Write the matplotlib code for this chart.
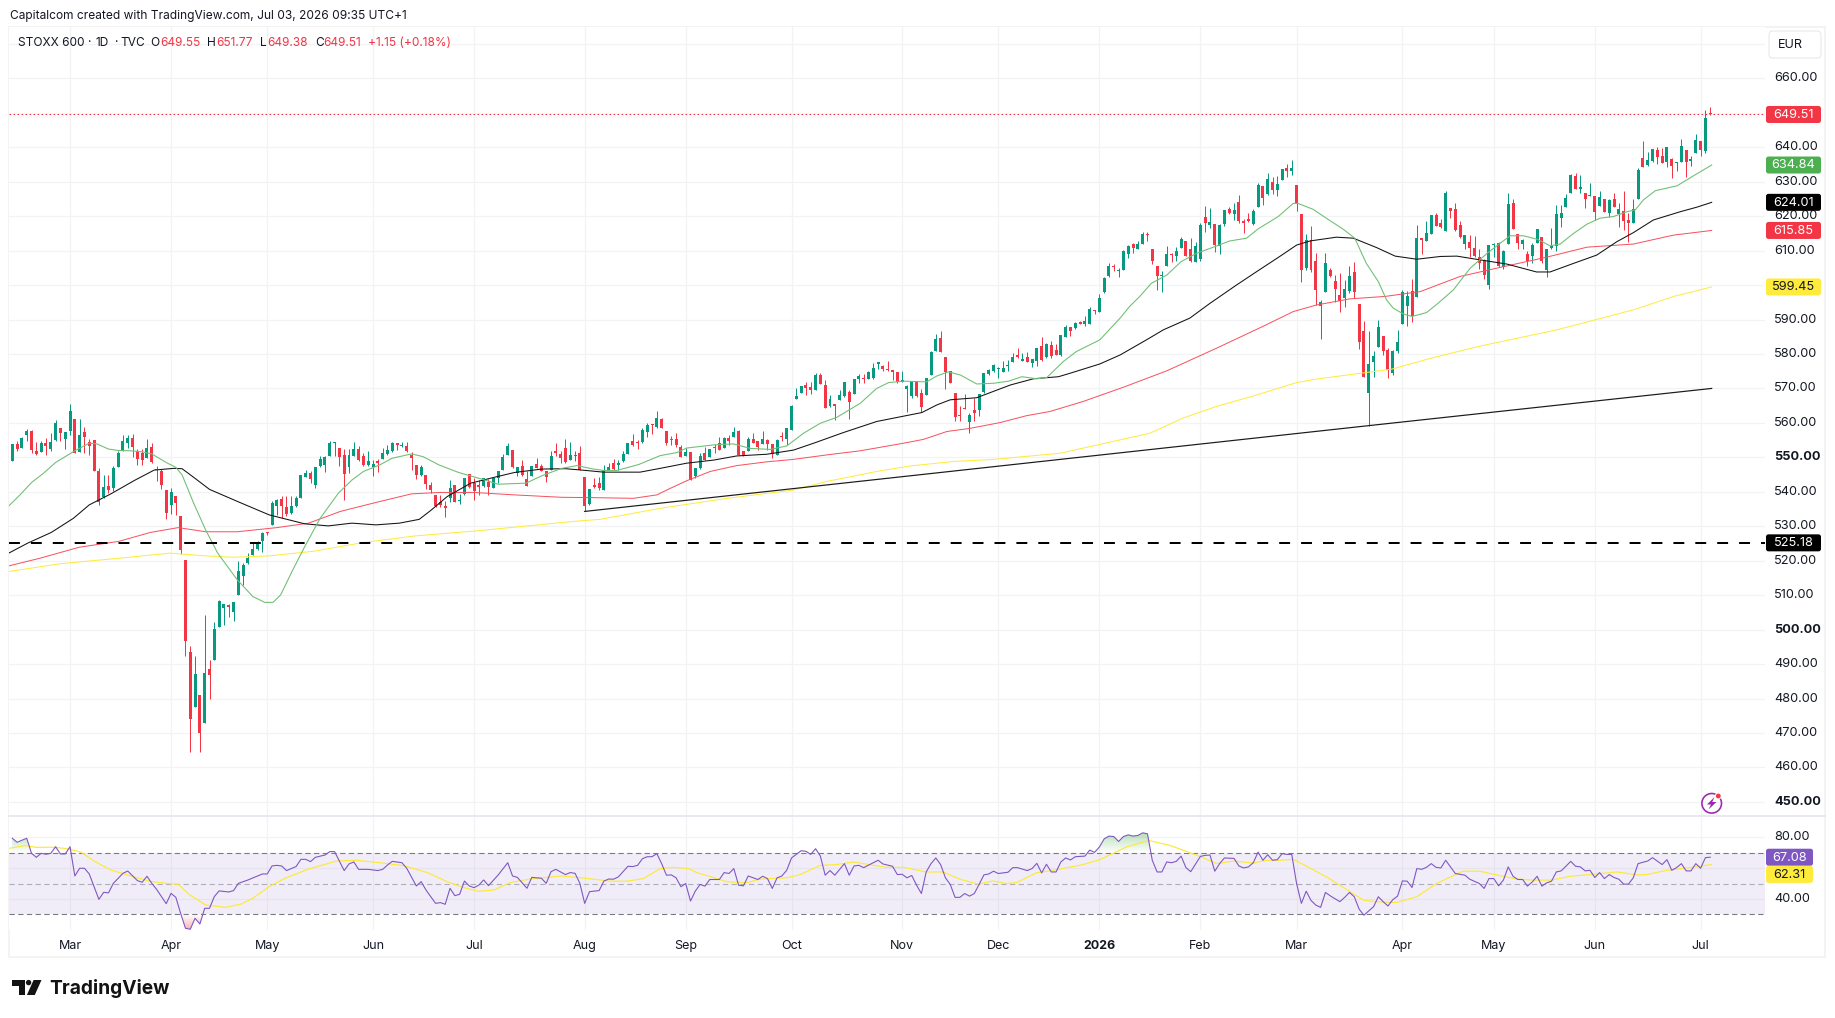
# STOXX 600 daily candles with moving averages, trend line and RSI pane
import numpy as np
import matplotlib
matplotlib.use('Agg')
import matplotlib.pyplot as plt
from matplotlib.patches import Rectangle, Circle, Polygon, FancyBboxPatch
from matplotlib.path import Path

plt.rcParams['font.family'] = ['Inter', 'DejaVu Sans']
plt.rcParams['lines.scale_dashes'] = False

W, H = 1835, 1018
BAR_X0, BAR_DX = 12.3, 4.81   # pixel of first bar, pixels per bar

# ---- price data, one entry per trading day
opens = [
    549.0,553.9,552.8,556.5,557.6,551.9,551.6,554.1,552.3,555.0,
    558.5,555.2,557.7,561.0,551.6,557.4,554.4,555.0,546.1,538.4,
    541.7,541.2,547.3,551.7,554.1,555.6,551.7,551.4,549.8,553.0,
    546.5,546.1,540.5,536.2,538.8,533.0,520.2,493.5,477.4,481.1,
    472.8,488.5,491.2,500.9,506.3,507.1,505.0,509.9,515.7,519.3,
    521.7,523.3,525.6,528.0,530.4,535.9,537.9,535.7,533.9,535.9,
    538.2,544.3,545.4,542.0,547.5,547.8,550.4,554.2,552.6,550.7,
    547.1,550.4,552.3,550.5,547.7,547.3,548.6,549.6,551.0,551.7,
    553.9,553.2,553.3,550.7,547.7,544.9,544.8,542.0,539.0,536.9,
    535.8,538.1,542.0,537.4,539.4,545.1,542.5,541.7,541.7,542.8,
    541.2,543.9,546.3,550.7,552.1,545.4,547.5,543.6,544.6,548.1,
    547.6,546.0,546.3,551.9,550.9,552.8,549.2,550.3,551.2,544.3,
    536.4,542.0,542.6,540.6,546.3,548.3,547.9,548.8,551.0,554.8,
    554.4,554.4,557.4,559.5,558.8,561.2,557.7,555.0,555.4,553.1,
    550.4,551.6,544.6,546.9,551.2,550.2,552.7,554.2,552.8,555.6,
    556.0,557.5,551.9,551.7,555.2,554.8,553.9,555.1,553.8,550.8,
    555.9,555.3,557.8,566.8,568.8,571.0,570.5,569.4,573.9,571.0,
    564.9,565.1,566.5,567.7,569.0,568.5,572.6,572.8,572.8,572.9,
    577.2,576.5,575.5,575.0,574.8,571.9,569.7,567.8,572.1,568.6,
    568.1,573.9,580.9,584.6,579.1,575.0,568.6,562.1,564.4,560.3,
    563.6,563.6,568.9,574.2,575.0,575.7,574.9,576.5,577.6,579.7,
    578.0,579.0,577.3,578.1,582.3,579.0,582.6,581.2,579.7,584.9,
    587.8,587.4,589.4,588.7,588.8,592.6,592.2,598.0,602.6,605.5,
    604.0,604.5,609.1,611.9,610.6,612.0,614.7,610.5,605.5,602.6,
    605.6,609.0,608.5,610.8,612.8,610.5,606.8,607.6,619.7,617.5,
    617.7,611.4,617.7,622.0,620.6,624.1,618.7,619.2,617.6,622.8,
    628.8,626.4,630.0,627.6,630.5,634.0,633.0,629.0,620.6,605.0,
    613.1,607.0,594.0,598.0,604.4,601.2,597.1,596.3,598.2,603.8,
    594.5,586.7,568.8,577.7,581.9,585.2,581.2,574.6,581.0,588.7,
    593.8,598.3,596.4,613.3,612.8,614.9,620.3,617.9,615.8,622.4,
    622.1,617.4,611.9,612.4,610.7,608.2,607.3,600.0,611.5,612.3,
    605.3,611.9,623.8,614.7,611.9,609.0,608.4,612.3,613.9,604.3,
    610.9,611.2,619.5,622.8,626.8,631.7,628.0,626.6,625.9,625.9,
    622.9,625.0,620.9,625.0,620.5,621.5,618.9,618.1,625.0,636.8,
    634.9,635.9,639.2,637.5,635.6,636.5,635.4,635.8,639.1,636.1,
    638.4,641.7,639.0,649.55,
]
highs = [
    553.9,554.6,555.9,558.2,558.0,554.5,554.6,555.7,557.2,560.8,
    558.5,557.4,565.5,561.0,561.0,558.7,555.2,555.0,546.9,544.9,
    544.9,547.4,551.8,556.5,556.4,556.8,552.3,552.3,555.2,554.1,
    547.5,546.7,540.5,541.0,538.8,533.0,520.2,495.3,492.4,481.1,
    504.3,491.2,502.1,508.6,507.4,507.4,508.1,519.9,519.3,522.2,
    525.0,525.8,528.2,528.3,537.2,537.9,538.8,538.8,538.8,538.8,
    544.9,546.3,545.9,547.1,550.4,550.4,554.8,554.5,552.6,552.3,
    552.3,554.5,553.3,551.4,551.9,549.2,549.5,552.6,553.6,554.5,
    554.1,554.5,554.5,551.6,547.7,547.8,544.8,542.7,539.0,539.1,
    537.4,543.4,542.0,539.4,543.9,545.1,543.9,543.3,543.9,543.6,
    543.9,546.0,551.0,554.1,552.1,547.1,549.2,545.9,547.5,549.7,
    548.1,546.0,551.7,554.3,551.8,555.4,554.5,551.7,553.3,544.3,
    540.8,544.0,544.4,547.8,548.3,549.4,549.3,551.7,554.2,556.8,
    554.9,558.4,560.1,559.7,563.5,561.4,557.7,556.2,557.0,553.5,
    552.6,551.6,546.9,551.2,553.1,552.4,553.9,556.0,556.0,556.4,
    558.7,558.0,551.9,555.8,557.0,554.8,557.6,555.4,553.8,555.3,
    557.3,558.5,565.1,570.1,570.7,571.9,572.0,574.6,574.4,572.5,
    568.1,565.1,569.6,571.9,569.4,572.6,574.2,574.2,575.2,577.3,
    577.3,576.7,577.9,575.2,574.8,575.0,571.0,572.1,572.1,569.8,
    573.0,580.8,585.8,586.6,579.1,575.0,568.6,564.9,568.4,562.8,
    567.1,568.4,574.6,575.6,577.1,576.3,578.1,578.3,580.2,581.7,
    580.2,580.5,578.5,581.7,584.8,583.3,583.7,582.9,585.5,588.3,
    587.8,589.4,589.6,590.9,593.6,592.8,597.4,602.3,606.3,606.0,
    604.9,610.2,611.6,612.1,612.7,615.4,615.4,610.5,605.5,604.1,
    611.4,609.4,611.0,613.9,612.8,613.7,612.6,617.9,622.9,622.3,
    617.7,617.7,621.8,622.8,623.7,626.0,619.3,620.8,622.0,629.5,
    628.8,632.5,631.3,631.7,633.7,635.1,636.3,629.0,620.6,614.8,
    617.2,609.2,595.7,609.2,605.0,602.9,603.4,601.5,605.4,606.7,
    594.5,589.6,586.7,581.0,589.9,585.2,581.7,581.2,587.0,598.6,
    598.4,601.7,617.4,613.3,618.6,620.3,620.9,619.3,627.3,622.4,
    623.8,618.6,614.5,614.5,614.2,610.4,607.5,611.6,612.1,612.6,
    610.2,626.7,625.0,614.7,613.4,610.0,612.1,616.3,613.9,610.5,
    616.7,623.1,623.1,626.4,632.2,632.4,631.8,626.6,629.5,625.9,
    627.3,625.0,624.9,626.6,623.9,627.3,620.8,625.0,633.9,641.8,
    638.6,639.4,640.0,639.7,640.1,636.8,635.7,642.5,639.1,637.6,
    643.9,641.7,650.7,651.77,
]
lows = [
    549.0,551.9,552.6,554.6,551.2,550.7,551.5,550.7,551.9,554.8,
    554.6,552.3,556.5,551.2,551.6,551.2,550.7,545.9,536.2,538.1,
    539.6,540.3,547.1,551.7,552.6,550.2,547.8,547.8,549.8,548.5,
    543.0,540.7,532.2,533.6,533.3,521.9,492.4,464.6,477.4,464.6,
    472.8,479.8,491.2,500.9,501.4,503.8,502.6,509.9,513.0,519.1,
    521.7,523.1,522.5,527.5,530.4,533.3,532.3,533.0,533.6,535.7,
    538.2,544.2,542.5,541.0,547.1,545.6,550.4,550.4,547.5,537.6,
    545.4,550.4,548.8,547.5,547.5,544.6,545.6,549.6,550.7,551.5,
    552.1,552.9,551.5,546.3,543.6,544.6,540.7,539.6,535.7,535.7,
    532.8,537.1,537.0,536.4,539.1,541.0,537.6,539.1,541.5,539.1,
    541.0,542.5,546.3,550.6,547.0,544.6,544.6,541.7,544.6,546.8,
    546.0,542.9,546.3,550.4,548.5,548.3,549.2,548.8,546.2,534.3,
    536.2,541.0,540.5,540.5,546.2,546.3,546.3,548.6,551.0,553.3,
    552.4,554.1,556.0,556.8,558.6,558.6,553.7,553.6,553.1,550.2,
    550.4,543.3,543.9,546.6,549.1,550.2,551.4,552.0,552.6,553.6,
    556.0,550.7,550.4,551.7,554.1,552.1,553.9,552.0,549.7,550.8,
    554.8,553.6,557.8,566.8,568.8,568.2,568.4,569.4,571.3,564.2,
    564.7,560.7,566.5,567.4,561.2,568.4,571.7,571.7,572.7,572.8,
    575.5,575.2,575.2,572.3,571.5,571.9,563.3,567.1,567.6,563.2,
    568.1,573.9,580.9,580.6,569.8,571.5,560.4,560.4,564.0,557.2,
    560.4,562.0,568.6,573.9,574.9,573.0,574.9,575.2,577.6,578.7,
    577.9,577.8,576.3,576.5,578.1,578.7,578.8,579.7,579.5,584.8,
    585.3,587.2,588.7,588.2,588.7,591.7,592.2,597.6,602.2,604.2,
    602.2,604.4,607.8,609.4,610.6,611.9,612.8,606.1,598.6,598.0,
    605.5,606.8,607.1,610.7,608.3,606.8,606.7,607.0,615.5,616.5,
    609.7,609.1,617.0,620.6,618.9,618.1,615.2,618.4,617.4,622.6,
    623.3,626.2,626.4,625.9,630.5,631.5,632.0,621.6,601.0,604.4,
    603.9,594.2,584.4,598.0,602.4,595.2,592.2,593.5,597.8,596.2,
    581.5,573.2,559.2,573.2,581.9,579.7,572.9,573.9,580.4,588.7,
    588.1,589.4,596.4,609.1,612.8,614.9,617.0,616.5,615.8,619.6,
    615.7,613.6,610.4,608.1,608.2,604.8,601.8,598.9,608.2,605.3,
    604.7,611.9,616.3,610.5,610.5,605.5,606.5,612.1,606.3,602.2,
    610.5,610.0,616.9,622.8,626.8,627.9,626.8,622.5,625.9,618.9,
    622.9,621.2,619.7,622.7,616.9,616.0,612.6,618.1,625.0,634.3,
    634.7,635.7,635.2,635.3,634.4,631.2,633.2,635.6,631.4,634.6,
    638.4,637.6,638.4,649.38,
]
closes = [
    553.9,552.4,555.6,557.5,552.1,551.0,554.1,553.3,554.5,560.0,
    557.2,557.4,563.5,551.2,556.5,555.9,553.4,546.0,536.9,541.3,
    540.5,546.9,551.4,554.6,555.6,552.9,549.5,549.1,552.6,548.7,
    546.3,542.0,533.8,539.9,536.7,523.1,496.6,474.1,487.2,470.1,
    487.4,486.9,500.2,508.4,507.4,506.7,508.1,517.0,518.8,520.8,
    523.4,525.4,527.9,527.9,536.8,537.6,536.0,533.6,535.9,538.2,
    544.9,545.4,543.7,547.1,549.5,550.0,554.1,554.3,550.2,545.2,
    550.7,552.5,549.1,547.8,548.9,548.1,548.5,551.2,552.0,554.1,
    553.7,553.3,551.7,549.8,544.9,547.1,542.2,540.5,536.0,536.2,
    535.2,541.0,537.1,537.6,543.9,541.5,540.3,541.5,543.9,541.5,
    543.9,546.0,550.2,553.3,547.1,547.1,544.9,541.7,547.5,547.0,
    546.1,544.4,550.4,551.4,549.8,548.6,550.7,550.4,546.2,536.0,
    540.8,541.5,541.0,546.3,547.2,546.6,548.0,550.9,554.2,553.6,
    554.1,558.0,559.4,559.4,561.4,558.6,554.1,554.9,553.6,550.2,
    551.6,543.3,546.9,550.5,549.3,552.4,552.6,552.2,555.6,554.8,
    557.4,550.7,550.7,555.3,554.3,553.1,555.3,553.8,551.0,554.9,
    555.8,558.5,564.9,567.7,570.7,570.2,569.5,573.9,571.3,564.2,
    566.9,565.0,568.1,571.9,566.2,572.6,573.6,572.6,574.9,575.9,
    577.3,575.6,575.4,574.9,571.8,572.5,570.8,572.1,567.8,564.7,
    573.0,580.5,584.4,580.6,574.8,571.5,561.8,562.0,564.1,562.3,
    563.0,568.4,574.4,575.4,576.8,575.8,575.9,576.7,579.2,579.0,
    578.4,577.8,578.5,581.7,578.3,582.9,579.4,579.8,585.5,587.8,
    586.8,589.0,588.8,589.6,593.1,592.4,596.3,602.0,605.5,605.2,
    604.1,609.9,611.4,610.7,611.9,614.8,614.6,607.1,602.7,602.7,
    609.0,608.6,609.8,613.4,608.4,607.0,611.4,617.4,618.1,618.2,
    611.6,617.5,621.8,620.9,621.8,618.6,617.9,618.6,621.6,629.1,
    625.3,630.8,627.6,629.3,633.7,633.0,634.0,623.4,604.4,613.1,
    604.4,598.6,595.0,606.4,602.6,598.9,595.5,598.9,602.6,598.0,
    583.6,573.2,577.1,579.4,587.8,581.0,575.4,581.0,583.5,598.0,
    596.9,590.9,613.7,613.2,615.0,620.3,617.2,616.9,626.8,621.6,
    616.0,614.0,614.5,610.7,608.5,606.3,602.9,611.6,611.9,605.6,
    610.0,623.5,616.3,612.1,613.1,607.0,611.6,616.3,606.9,610.5,
    611.4,620.6,620.9,625.2,631.9,627.9,628.4,625.0,626.0,621.3,
    625.6,621.2,624.6,622.7,622.1,618.7,618.1,622.0,633.4,634.3,
    636.3,639.4,637.3,635.5,640.1,634.6,635.5,640.4,635.8,636.2,
    642.1,639.2,648.36,649.51,
]

# ---- moving averages, read at the bars where the curve bends
ma20_bars = [-1,1.6,4,6.5,9,11,13,16,17.6,20,22,24.6,27,29,32,34,35.3,37.7,40.2,42.7,46.8,50,52.5,54.2,55.8,58.3,60.8,64,67.8,70.6,73,76.4,78.9,83,85.4,88.7,92.8,97.8,101,106.8,110,114.2,117.4,120.8,122.9,125.7,130.2,134.7,138.2,140.2,145.8,149.9,153.4,157.6,161,164.5,168,171.4,176.3,179.7,182.2,185.3,190.1,192.2,194.6,197.1,200.5,204,207.1,209.9,213,215.1,218.5,221.2,226.1,230.3,232.3,234.4,236.8,240,243,246.2,249.7,253.1,256.6,259,263.2,266.3,267.3,270.4,273.2,276.7,279.1,281.5,284,285.7,287.1,289.2,291,294,296.4,299.6,301.7,303.1,306.6,309.3,311.4,314.2,317,319.7,321.8,324.6,327.4,330.1,332.9,335.7,337.4,339.1,341.6,346.1,349.5,353.3]
ma20_vals = [535.5,539.1,542.7,545.4,548.5,550.2,551.9,554.1,553.9,552.4,552.0,551.9,551.6,551.0,548.5,547.1,544.9,536.7,528.9,522.2,514.4,509.6,507.9,507.9,510.1,517.3,524.1,532.3,539.6,543.4,545.9,547.8,549.7,551.0,550.2,547.8,545.6,543.6,542.2,542.5,544.6,546.8,547.6,546.6,546.2,546.2,547.9,550.5,551.4,552.7,553.6,553.9,552.6,552.3,553.3,557.0,559.9,561.6,565.7,570.0,571.7,572.1,571.9,573.6,574.8,573.9,571.3,571.5,572.1,573.4,572.8,573.2,577.8,580.7,584.1,590.4,593.8,596.7,600.5,602.9,606.8,609.2,611.0,612.8,613.6,616.3,619.9,623.7,623.7,622.0,619.4,616.2,613.6,606.3,601.0,595.7,593.3,591.6,590.9,592.0,594.7,598.6,602.4,604.9,609.2,612.1,614.3,614.3,613.3,611.4,611.9,615.0,617.7,619.4,619.9,621.3,621.8,624.7,627.4,628.8,631.7,634.84]

ma50_bars = [-1,3.2,8.1,12.7,16,20.5,25.4,29.5,33.6,35.3,37.7,41,46.8,53.4,60.8,65.7,70.6,75.6,80.5,84.6,87.1,90.4,95.3,100.2,104.4,110.1,115,119.2,122.9,130.5,134.7,140.2,145.8,150.6,156.9,162.4,166.6,172.8,179.7,189.1,192.2,195,200.5,207.5,212.3,217.5,219.9,226.1,230.3,235.8,239.3,244.8,249,254.5,258.7,263.5,267,269.8,275.3,278.8,283.6,287.5,292,296.9,300.3,305.2,310.7,316.9,319.7,324.6,329.4,333.6,337,341.2,346.8,350.2,353.3]
ma50_vals = [522.0,525.1,528.2,532.3,536.2,539.4,543.3,546.3,546.8,546.7,544.2,540.7,537.2,533.3,530.7,530.1,530.9,530.4,530.9,532.0,534.7,538.6,542.5,544.2,545.6,546.6,546.7,546.2,545.7,545.7,546.8,548.3,549.2,550.4,550.9,552.1,554.1,557.2,560.4,563.0,565.2,566.7,567.3,571.0,572.8,573.4,574.4,577.1,579.7,584.1,587.0,590.4,594.7,600.0,603.9,608.3,611.6,612.8,613.9,613.6,610.9,608.4,607.5,608.3,608.4,607.3,606.1,603.8,603.8,606.3,608.7,612.6,615.2,618.9,621.3,622.6,624.01]

ma100_bars = [-1,5.7,13.9,22.1,28.7,34.5,40.2,46.8,55,61.6,68.2,75.6,83,88.7,96.1,104.4,114.2,120.8,129.1,134,136.8,140.2,145.1,150.6,156.9,162.4,169.3,176.3,185.3,189.4,194.3,199.1,205.4,210.9,215.7,222.6,230.9,240,250.4,260,266.3,271.1,278.1,285.4,292.7,301,308.6,319,327.4,337,345.4,353.3]
ma100_vals = [518.4,520.7,523.9,525.6,528.2,529.6,528.4,528.4,529.6,530.9,534.3,536.9,539.4,539.8,539.8,539.1,538.4,538.3,538.1,539.1,541.0,543.2,545.9,547.6,548.7,549.4,550.7,551.9,554.1,555.2,557.5,558.4,560.1,562.1,563.3,566.2,570.3,575.1,581.7,588.0,592.3,594.2,596.0,596.7,598.1,602.5,604.9,608.1,611.0,611.9,614.5,615.85]

ma200_bars = [-1,9.8,22.1,32.8,40.2,46,53.4,62.4,73.1,83.8,96.1,116.7,122.2,134.7,148.6,162.4,169.3,179.7,186.7,195.7,204,217.9,236.5,243.4,250.4,258.7,267,271.1,278.1,286.8,295,305.2,321.1,337,345.4,353.3]
ma200_vals = [516.8,519.1,520.7,522.2,521.4,521.0,521.4,522.7,525.3,527.2,528.6,531.4,532.0,535.2,538.1,540.5,543.0,545.9,547.5,548.8,549.4,551.2,557.0,561.4,564.8,568.1,571.7,572.7,574.0,575.6,578.8,582.3,587.0,592.8,596.7,599.45]

# support line through the August and March lows
trend_bars = [119, 282, 353.3]
trend_vals = [534.3, 559.2, 570.0]

horizontal_level = 525.18

# ---- RSI pane
rsi_bars = [0,1,3,4,5,6,7,8,9,10,11,12,13,14,15,16,18,19,20,21,23,24,26,27,28,29,30,32,33,34,35,36,37,38,39,40,41,42,43,45,46,47,49,51,52,53,54,55,56,57,59,60,61,62,63,65,66,67,69,70,71,72,74,75,76,77,78,79,81,82,84,85,86,87,88,89,90,91,92,93,94,95,96,97,98,99,101,103,104,105,107,108,110,111,112,113,115,116,117,118,119,120,122,123,124,125,126,128,129,130,131,132,133,134,135,136,137,138,139,140,141,142,143,144,145,147,148,149,150,151,152,153,155,156,157,158,159,160,161,162,164,165,166,167,168,169,170,171,173,174,175,176,177,179,180,181,183,184,185,186,187,188,189,190,191,192,193,194,195,196,197,198,199,200,201,202,203,204,205,207,208,209,211,212,213,214,215,216,217,218,219,220,221,223,224,225,226,227,228,229,230,231,232,233,234,235,236,237,238,239,240,241,242,243,244,245,247,248,249,250,251,252,254,255,256,257,258,259,260,261,262,263,264,265,266,267,268,269,270,271,272,273,274,276,277,278,279,280,281,282,283,284,285,286,287,288,289,290,291,292,293,294,295,296,297,298,300,302,303,305,306,307,308,309,310,311,312,313,314,315,316,317,318,319,320,321,322,323,324,325,326,327,328,329,330,331,332,333,334,335,336,337,338,339,340,341,343,344,345,346,347,348,349,350,351,352,353]
rsi_vals = [79.4,76.8,79.4,69.6,67.0,69.6,69.0,69.6,73.9,69.2,69.2,73.9,54.9,59.9,59.9,56.2,39.7,44.3,43.9,50.1,56.6,58.1,51.9,50.8,54.7,50.1,46.2,36.9,43.6,41.0,30.6,20.9,20.3,27.4,23.7,33.9,33.9,41.5,45.2,44.5,45.4,50.1,52.3,54.9,56.2,56.2,61.4,61.8,61.4,58.4,61.0,65.7,65.7,64.2,67.0,68.5,70.7,70.7,58.4,62.7,64.0,59.2,59.2,58.8,58.4,59.2,62.0,64.4,63.5,59.9,48.4,51.2,45.8,41.5,37.1,37.6,36.5,46.9,42.1,43.0,51.6,48.4,47.3,49.0,52.3,48.6,55.5,63.5,54.9,54.0,46.9,54.0,53.4,50.1,57.7,59.2,55.8,57.1,56.6,50.1,37.1,44.7,45.4,51.6,52.9,52.8,54.3,61.2,61.0,61.8,66.1,67.4,67.4,69.4,62.9,55.4,55.6,53.7,47.9,50.0,38.6,45.1,49.4,48.3,52.6,52.6,57.1,56.5,59.7,48.9,48.5,54.9,52.6,54.7,53.2,46.8,53.7,54.9,58.6,66.6,71.3,70.9,68.9,72.6,67.8,55.4,58.4,55.4,62.9,55.4,61.4,61.8,60.3,63.5,65.1,62.7,61.2,55.8,56.0,53.7,55.2,48.9,43.5,57.5,62.9,66.6,62.3,53.7,49.4,41.0,41.0,43.5,41.8,43.5,49.4,55.6,56.2,58.0,56.5,57.3,60.3,60.3,58.4,59.7,63.1,56.9,62.5,57.5,57.5,64.0,66.6,65.3,67.4,67.8,71.7,70.2,73.7,79.0,80.8,80.5,77.3,80.5,81.6,80.8,81.2,82.9,82.3,65.1,57.5,57.5,64.0,63.5,64.4,67.8,60.3,57.7,67.6,68.3,68.5,58.0,62.9,66.6,66.3,61.4,60.1,60.8,63.5,70.4,65.1,68.7,65.1,65.5,69.4,68.9,68.9,50.0,37.1,45.0,39.0,36.0,34.5,44.2,42.0,38.2,41.0,44.2,41.4,33.4,29.4,32.2,34.9,41.4,38.2,35.4,39.5,41.8,51.7,51.5,47.4,59.7,59.2,60.5,62.9,60.5,60.1,65.1,56.5,55.4,52.8,50.0,46.8,53.2,53.2,48.5,52.2,60.8,54.7,52.6,52.6,48.3,51.0,54.7,48.3,50.4,51.5,57.5,58.2,61.2,64.4,61.2,60.8,58.2,58.6,53.9,57.1,53.2,55.8,53.9,52.8,49.6,49.6,53.7,62.9,63.8,64.6,66.8,62.3,65.5,58.6,60.3,62.9,58.2,58.2,62.9,59.9,66.8,67.08]

rsi_ma_bars = [-1,2.8,4.9,9,11.8,14.3,17.2,20.5,24.6,28.7,32,34.5,36.9,40.2,44.3,47.6,50,53.4,56.7,61.6,67.4,71.5,76.4,81.3,86.3,90.4,93.7,96.9,100.2,103.5,107.6,114.2,119.2,124.3,127.8,131.2,134.7,137.5,140.6,142.3,146.5,148.6,152.7,155.5,157.6,161,163.8,168,171.4,174.9,179,181.8,185.3,190,193.5,197,200.8,203.9,206.7,208.8,212.9,217.1,222.6,226.1,231.6,236.2,240.7,244.1,246.9,250.4,253.8,258,260.8,263.5,266.3,269.1,273.2,279.5,280.9,284.3,287.8,292,296.1,301.6,305.1,307.9,312.8,316.2,320,323.9,328.7,333.6,337.7,339.8,344,348.8,353.2]
rsi_ma_vals = [72.7,74.6,73.5,73.5,72.4,70.3,64.2,58.8,54.9,51.4,50.1,49.5,42.6,36.1,34.5,36.7,40.4,48.0,53.4,59.4,64.6,65.1,63.5,61.6,57.1,51.2,47.5,44.9,45.8,50.6,52.9,54.9,53.4,51.5,51.5,53.2,59.7,60.5,59.7,57.1,53.2,51.1,50.6,52.8,53.2,53.7,55.8,61.8,62.3,64.0,61.8,60.5,60.5,57.5,57.5,52.8,49.6,51.7,50.0,50.6,56.9,59.0,62.3,65.5,73.7,78.0,74.7,70.9,67.6,62.9,64.6,63.3,65.1,65.1,65.7,61.2,54.3,42.0,39.2,38.0,37.7,41.4,50.0,58.0,58.0,56.0,52.9,52.2,52.2,54.7,56.0,57.5,55.6,55.8,58.6,60.3,62.31]

# ---- axis labels
month_bars = [12,33,53,75,96,119,140,162,185,205,226,247,267,289,308,329,351]
month_labels = ['Mar','Apr','May','Jun','Jul','Aug','Sep','Oct','Nov','Dec','2026','Feb','Mar','Apr','May','Jun','Jul']
price_ticks = list(range(450, 680, 10))
hidden_price_ticks = [600, 650, 670]
bold_price_ticks = [450, 500, 550]

UP, DOWN = '#089981', '#F23645'
GRID = '#F2F3F5'
INK = '#131722'
PX = 0.72  # points per pixel at dpi 100


def pane(left, top, right, bottom):
    return fig.add_axes([left / W, 1 - bottom / H, (right - left) / W, (bottom - top) / H])


def value_tag(ax, center, text, face, ink, right_px=1821):
    # rounded value box on the scale, placed in the pixel layer at the height of `center`
    y = H - ax.transData.transform((0, center))[1]
    top.add_patch(FancyBboxPatch((1768, y - 6.5), right_px - 1770, 13, boxstyle='round,pad=2,rounding_size=2.5',
                                 facecolor=face, edgecolor='none', zorder=6))
    top.text((1766 + right_px) / 2, y + 0.3, text, color=ink, ha='center', va='center', fontsize=12.7 * PX, zorder=7)


fig = plt.figure(figsize=(W / 100, H / 100), dpi=100, facecolor='white')

# chart frame and pixel-addressed layer for header, logo and icon
back = fig.add_axes([0, 0, 1, 1], zorder=-1)
back.set_xlim(0, W)
back.set_ylim(H, 0)
back.axis('off')
back.add_patch(Rectangle((8.5, 26.5), 1816.5, 930.5, facecolor='white', edgecolor='#F3F3F3', linewidth=2 * PX))

top = fig.add_axes([0, 0, 1, 1], zorder=10)
top.set_xlim(0, W)
top.set_ylim(H, 0)
top.axis('off')
top.patch.set_alpha(0)

ax = pane(9, 27, 1765, 816)
rsi = pane(9, 817, 1765, 930)
for a in (ax, rsi):
    a.set_xlim((9 - BAR_X0) / BAR_DX, (1765 - BAR_X0) / BAR_DX)
    for s in a.spines.values():
        s.set_visible(False)
    a.set_axisbelow(True)
    a.set_xticks(month_bars)
    a.grid(True, color=GRID, linewidth=1.3 * PX)
    a.tick_params(length=0)
    a.yaxis.tick_right()

ax.set_ylim(445.9, 674.9)
ax.set_yticks(price_ticks)
ax.set_yticklabels(['' if p in hidden_price_ticks else f'{p:.2f}' for p in price_ticks])
for lab, p in zip(ax.get_yticklabels(), price_ticks):
    lab.set_fontsize(12.7 * PX)
    lab.set_color(INK)
    lab.set_verticalalignment('center')
    if p in bold_price_ticks:
        lab.set_fontweight('bold')
ax.tick_params(axis='y', pad=9 * PX)
ax.tick_params(axis='x', labelbottom=False)

# candles
bars = np.arange(len(closes))
o, h_, l_, c = map(np.array, (opens, highs, lows, closes))
colors = np.where(c >= o, UP, DOWN)
ax.vlines(bars, l_, h_, colors=colors, linewidth=1.0 * PX, zorder=3)
body = np.maximum(np.abs(c - o), 0.35)
ax.bar(bars, body, bottom=np.minimum(o, c), width=0.62, color=colors, linewidth=0, zorder=3.1)

# moving averages, trend line and levels
ax.plot(ma200_bars, ma200_vals, color='#FFEB3B', linewidth=1.0 * PX, zorder=4)
ax.plot(ma100_bars, ma100_vals, color='#F7525F', linewidth=1.0 * PX, zorder=4)
ax.plot(ma50_bars, ma50_vals, color='#131313', linewidth=1.05 * PX, zorder=4.1)
ax.plot(ma20_bars, ma20_vals, color='#72C076', linewidth=1.1 * PX, zorder=4.2)
ax.plot(trend_bars, trend_vals, color='#1A1A1A', linewidth=1.2 * PX, zorder=4.3)
ax.axhline(horizontal_level, color='black', linewidth=2 * PX, linestyle=(0, (10.9 * PX, 11 * PX)), zorder=4.4)
ax.axhline(closes[-1], color=DOWN, linewidth=1 * PX, linestyle=(0, (1.6 * PX, 2.4 * PX)), zorder=2.5)

# RSI pane
rsi.set_ylim(19.8, 93.2)
rsi.set_yticks([40, 60, 80])
rsi.set_yticklabels(['40.00', '', '80.00'], fontsize=12.7 * PX, color=INK, va='center')
rsi.tick_params(axis='y', pad=9 * PX)
rsi.set_xticklabels(month_labels, fontsize=12.5 * PX, color=INK)
rsi.get_xticklabels()[10].set_fontweight('bold')
rsi.tick_params(axis='x', pad=10 * PX)

rsi.axhspan(30, 70, color='#7E57C2', alpha=0.1, linewidth=0, zorder=1)
band_dash = (0, (5.3 * PX, 3.4 * PX))
rsi.axhline(70, color='#787B86', linewidth=1.1 * PX, linestyle=band_dash, zorder=2)
rsi.axhline(30, color='#787B86', linewidth=1.1 * PX, linestyle=band_dash, zorder=2)
rsi.axhline(50, color='#787B86', linewidth=1.1 * PX, linestyle=band_dash, alpha=0.55, zorder=2)

# overbought / oversold shading fades out towards the band
rsi_arr = np.array(rsi_vals)
for level, edge, rgb, where in ((70, 84, (0.30, 0.69, 0.31), rsi_arr > 70), (30, 19, (0.95, 0.21, 0.27), rsi_arr < 30)):
    region = rsi.fill_between(rsi_bars, rsi_arr, level, where=where, interpolate=True, alpha=0)
    shade = np.zeros((64, 2, 4))
    shade[..., :3] = rgb
    shade[..., 3] = np.linspace(0.42, 0.0, 64)[:, None]
    img = rsi.imshow(shade, extent=(rsi_bars[0], rsi_bars[-1], level, edge), origin='upper', aspect='auto', zorder=1.5)
    img.set_clip_path(Path.make_compound_path(*region.get_paths()), transform=rsi.transData)
rsi.set_xlim((9 - BAR_X0) / BAR_DX, (1765 - BAR_X0) / BAR_DX)
rsi.set_ylim(19.8, 93.2)

rsi.plot(rsi_ma_bars, rsi_ma_vals, color='#FDE93B', linewidth=1.2 * PX, zorder=3)
rsi.plot(rsi_bars, rsi_vals, color='#7E57C2', linewidth=1.1 * PX, zorder=3.1)

# value tags on the scales
value_tag(ax, closes[-1], f'{closes[-1]:.2f}', '#F23645', 'white')
value_tag(ax, ma20_vals[-1], f'{ma20_vals[-1]:.2f}', '#4CAF50', 'white')
value_tag(ax, ma50_vals[-1], f'{ma50_vals[-1]:.2f}', '#000000', 'white')
value_tag(ax, ma100_vals[-1], f'{ma100_vals[-1]:.2f}', '#F23645', 'white')
value_tag(ax, ma200_vals[-1], f'{ma200_vals[-1]:.2f}', '#FFEB3B', INK)
value_tag(ax, horizontal_level, f'{horizontal_level:.2f}', '#000000', 'white')
value_tag(rsi, rsi_vals[-1], f'{rsi_vals[-1]:.2f}', '#7E57C2', 'white', right_px=1813)
# moving-average tag is pushed below the RSI tag so the two do not overlap
value_tag(rsi, 55.9, f'{rsi_ma_vals[-1]:.2f}', '#FFEB3B', INK, right_px=1813)

# header, legend, separators, logo
top.plot([9, 1825], [816, 816], color='#E0E3EB', linewidth=1.5 * PX)
top.text(10, 15.5, 'Capitalcom created with TradingView.com, Jul 03, 2026 09:35 UTC+1', fontsize=11.95 * PX,
         color=INK, va='center')

legend_y = 43
legend_parts = [(18, 'STOXX 600', INK), (87, '·', INK), (95, '1D', INK), (114, '·', INK), (120, 'TVC', INK),
                (150.5, 'O', INK), (160, '649.55', DOWN), (207, 'H', INK), (216, '651.77', DOWN),
                (260, 'L', INK), (267, '649.38', DOWN), (315, 'C', INK), (323, '649.51', DOWN),
                (368, '+1.15 (+0.18%)', DOWN)]
for x, s, col in legend_parts:
    top.text(x, legend_y, s, fontsize=11.9 * PX, color=col, va='center')

# currency button
top.add_patch(FancyBboxPatch((1771, 33), 48, 23, boxstyle='round,pad=2,rounding_size=4', facecolor='white',
                             edgecolor='#E6E6E6', linewidth=1 * PX))
top.text(1778, 44.5, 'EUR', fontsize=12.5 * PX, color=INK, va='center')

# purple lightning badge
top.add_patch(Circle((1711.7, 803.3), 9.8, facecolor='none', edgecolor='#9C27B0', linewidth=1.6 * PX))
top.add_patch(Polygon([(1714.5, 797), (1707, 804.5), (1711, 804.5), (1708.5, 809.5), (1716.5, 802), (1712.3, 802)],
                      closed=True, facecolor='#9C27B0', edgecolor='none'))
top.add_patch(Circle((1718.3, 796), 3.4, facecolor='white', edgecolor='none'))
top.add_patch(Circle((1718.3, 796), 2.4, facecolor='#F23645', edgecolor='none'))

# wordmark
logo = '#131313'
top.add_patch(Polygon([(12, 980), (25, 980), (25, 995), (18.6, 995), (18.6, 986), (12, 986)], closed=True,
                      facecolor=logo, edgecolor='none'))
top.add_patch(Circle((28.6, 982.6), 2.7, facecolor=logo, edgecolor='none'))
top.add_patch(Polygon([(33.6, 980), (41.5, 980), (34.8, 995), (26.9, 995)], closed=True, facecolor=logo, edgecolor='none'))
top.text(49, 988, 'TradingView', fontsize=19.2 * PX, color=logo, fontweight='bold', va='center')

fig.savefig('out.png', dpi=100, facecolor='white')
